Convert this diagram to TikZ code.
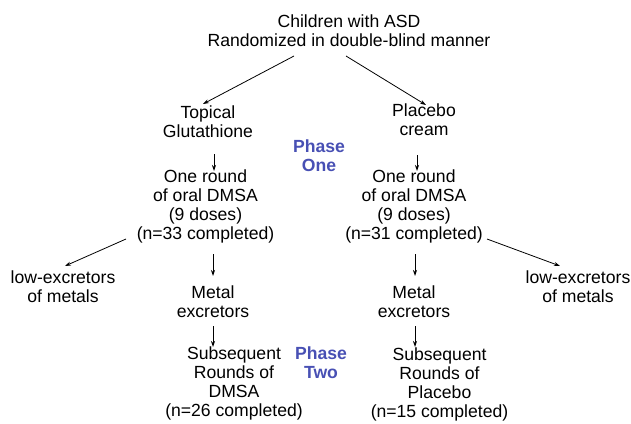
\documentclass[tikz,border=0pt]{standalone}
\usepackage{fontspec}
\setmainfont{Liberation Sans}
\usepackage{tikz}
\usetikzlibrary{arrows.meta}
\definecolor{phaseblue}{RGB}{72,80,180}

\begin{document}
\begin{tikzpicture}[x=1pt,y=-1pt,
		lbl/.style={align=center,inner sep=0pt,font=\fontsize{17.6}{19}\selectfont},
		phase/.style={lbl,text=phaseblue,font=\fontsize{17.6}{19}\selectfont\bfseries},
		arr/.style={-{Stealth[length=6pt,width=4pt]},line width=0.8pt}]
		\useasboundingbox (0,0) rectangle (631,423);
		\node[lbl] (title) at (349,30.5) {Children with ASD\\Randomized in double-blind manner};
		\node[lbl] (topical) at (208,122) {Topical\\Glutathione};
		\node[lbl] (placebo) at (424,120) {Placebo\\cream};
		\node[phase] (phaseone) at (319,156) {Phase\\One};
		\node[lbl] (roundL) at (205.5,206) {One round\\of oral DMSA\\(9 doses)\\(n=33 completed)};
		\node[lbl] (roundR) at (414,206) {One round\\of oral DMSA\\(9 doses)\\(n=31 completed)};
		\node[lbl] (lowL) at (63,287) {low-excretors\\of metals};
		\node[lbl] (lowR) at (578,287) {low-excretors\\of metals};
		\node[lbl] (metalL) at (213,302) {Metal\\excretors};
		\node[lbl] (metalR) at (414,302) {Metal\\excretors};
		\node[lbl] (subL) at (234,383.5) {Subsequent\\Rounds of\\DMSA\\(n=26 completed)};
		\node[lbl] (subR) at (439.5,384) {Subsequent\\Rounds of\\Placebo\\(n=15 completed)};
		\node[phase] (phasetwo) at (321,363) {Phase\\Two};
		% phase one
		\draw[arr] ([shift={(-55,25.5)}]title.center) -- ([shift={(-5,-18)}]topical.center);
		\draw[arr] ([shift={(-3,25.5)}]title.center) -- ([shift={(2,-15)}]placebo.center);
		\draw[arr] ([shift={(6,32)}]topical.center) -- ([shift={(8.5,-35)}]roundL.center);
		\draw[arr] ([shift={(-7,35)}]placebo.center) -- ([shift={(3,-35)}]roundR.center);
		% split after DMSA
		\draw[arr] ([shift={(-79.5,33)}]roundL.center) -- ([shift={(2,-21)}]lowL.center);
		\draw[arr] ([shift={(73,33)}]roundR.center) -- ([shift={(-18,-21)}]lowR.center);
		\draw[arr] ([shift={(7.5,48)}]roundL.center) -- ([shift={(0,-26)}]metalL.center);
		\draw[arr] ([shift={(1,48)}]roundR.center) -- ([shift={(1,-26)}]metalR.center);
		% phase two
		\draw[arr] ([shift={(0,24)}]metalL.center) -- ([shift={(-21,-36.5)}]subL.center);
		\draw[arr] ([shift={(1,24)}]metalR.center) -- ([shift={(-24.5,-37)}]subR.center);
	\end{tikzpicture}
\end{document}
